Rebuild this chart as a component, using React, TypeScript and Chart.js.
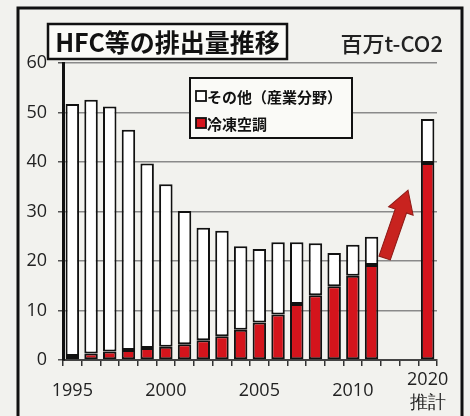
import React, { useEffect, useRef } from 'react';
import { Chart, registerables } from 'chart.js';

Chart.register(...registerables);

// ---- data ----
const categories = [
  '1995', '1996', '1997', '1998', '1999', '2000', '2001', '2002', '2003', '2004',
  '2005', '2006', '2007', '2008', '2009', '2010', '2011', 'gap1', 'gap2', '2020',
];
const shownTickLabels: Record<string, string | string[]> = {
  '1995': '1995',
  '2000': '2000',
  '2005': '2005',
  '2010': '2010',
  '2020': ['2020', '推計'],
};
const refrigeration = [0.8, 1.3, 1.7, 2.0, 2.4, 2.7, 3.2, 4.0, 4.8, 6.1, 7.6, 9.2, 11.3, 13.1, 14.9, 17.0, 19.2, null, null, 39.8];
const otherIndustry = [50.9, 51.3, 49.5, 44.5, 37.3, 32.8, 26.9, 22.7, 21.3, 16.9, 14.8, 14.6, 12.5, 10.5, 6.7, 6.3, 5.7, null, null, 8.9];
const seriesNames = ['冷凍空調', 'その他（産業分野）'];
const titleText = 'HFC等の排出量推移';
const unitText = '百万t-CO2';
const yTicks = { min: 0, max: 60, step: 10 };
// arrow from (category index, value) to (category index, value)
const arrowFrom = { idx: 16.7, value: 20.6 };
const arrowTo = { idx: 17.95, value: 34.3 };

const RED = '#d4141c';
const BG = '#f2f2ee';
const CJK = '"Noto Sans CJK JP", "Noto Sans", sans-serif';
const NUM = '"Open Sans", "Noto Sans", sans-serif';

const decorPlugin = {
  id: 'decor',
  beforeDraw(chart: any) {
    const { ctx, width, height } = chart;
    ctx.save();
    ctx.fillStyle = BG;
    ctx.fillRect(0, 0, width, height);
    ctx.strokeStyle = '#111';
    ctx.lineWidth = 3;
    ctx.strokeRect(18, 8, 444, height + 20);
    ctx.restore();
  },
  afterDatasetsDraw(chart: any) {
    const { ctx, scales } = chart;
    const x = scales.x, y = scales.y;
    const x0 = x.getPixelForValue(arrowFrom.idx), y0 = y.getPixelForValue(arrowFrom.value);
    const x1 = x.getPixelForValue(arrowTo.idx), y1 = y.getPixelForValue(arrowTo.value);
    const ang = Math.atan2(y1 - y0, x1 - x0);
    const len = Math.hypot(x1 - x0, y1 - y0);
    const shaftW = 12, headW = 26, headL = 22;
    ctx.save();
    ctx.translate(x0, y0);
    ctx.rotate(ang);
    ctx.beginPath();
    ctx.moveTo(0, -shaftW / 2);
    ctx.lineTo(len - headL, -shaftW / 2);
    ctx.lineTo(len - headL, -headW / 2);
    ctx.lineTo(len, 0);
    ctx.lineTo(len - headL, headW / 2);
    ctx.lineTo(len - headL, shaftW / 2);
    ctx.lineTo(0, shaftW / 2);
    ctx.closePath();
    ctx.fillStyle = '#c8231f';
    ctx.fill();
    ctx.strokeStyle = '#8e1a16';
    ctx.lineWidth = 1;
    ctx.stroke();
    ctx.restore();
  },
  afterDraw(chart: any) {
    const { ctx } = chart;
    ctx.save();
    // title box
    ctx.fillStyle = '#fafaf7';
    ctx.fillRect(48, 24, 239, 35);
    ctx.strokeStyle = '#111';
    ctx.lineWidth = 2.5;
    ctx.strokeRect(48, 24, 239, 35);
    ctx.fillStyle = '#111';
    ctx.font = `bold 25px ${CJK}`;
    ctx.textAlign = 'center';
    ctx.textBaseline = 'middle';
    ctx.fillText(titleText, 167.5, 42);
    // unit
    ctx.font = `500 22px ${CJK}`;
    ctx.textAlign = 'right';
    ctx.fillStyle = '#222';
    ctx.fillText(unitText, 443, 44);
    // legend
    ctx.fillStyle = '#fafaf7';
    ctx.fillRect(190, 78, 162, 60);
    ctx.strokeStyle = '#111';
    ctx.lineWidth = 2;
    ctx.strokeRect(190, 78, 162, 60);
    const rows = [
      { label: seriesNames[1], fill: '#ffffff', yc: 96 },
      { label: seriesNames[0], fill: RED, yc: 123 },
    ];
    ctx.font = `bold 15px ${CJK}`;
    ctx.textAlign = 'left';
    for (const r of rows) {
      ctx.fillStyle = r.fill;
      ctx.fillRect(196, r.yc - 5, 10, 10);
      ctx.strokeStyle = '#111';
      ctx.lineWidth = 1.8;
      ctx.strokeRect(196, r.yc - 5, 10, 10);
      ctx.fillStyle = '#111';
      ctx.fillText(r.label, 207, r.yc + 1);
    }
    ctx.restore();
  },
};

export default function App() {
  const ref = useRef<HTMLCanvasElement | null>(null);
  useEffect(() => {
    document.body.style.margin = '0';
    const chart = new Chart(ref.current as HTMLCanvasElement, {
      type: 'bar',
      data: {
        labels: categories,
        datasets: [
          {
            label: seriesNames[0],
            data: refrigeration,
            backgroundColor: RED,
            borderColor: '#111',
            borderWidth: 2,
            borderSkipped: false,
          },
          {
            label: seriesNames[1],
            data: otherIndustry,
            backgroundColor: '#ffffff',
            borderColor: '#111',
            borderWidth: 2,
            borderSkipped: false,
          },
        ],
      },
      options: {
        animation: false,
        responsive: false,
        maintainAspectRatio: false,
        layout: { padding: { top: 63, right: 33, left: 0, bottom: 0 } },
        datasets: { bar: { categoryPercentage: 1, barPercentage: 0.72 } },
        plugins: { legend: { display: false }, tooltip: { enabled: false }, title: { display: false } },
        scales: {
          x: {
            stacked: true,
            afterFit: (s: any) => { s.height = 56; },
            grid: { display: true, drawOnChartArea: false, drawTicks: true, tickLength: 6, color: '#333', lineWidth: 1.5, offset: true },
            border: { display: true, color: '#444', width: 2 },
            ticks: {
              autoSkip: false,
              maxRotation: 0,
              padding: 14,
              crossAlign: 'center',
              color: '#222',
              font: { family: NUM, size: 18, lineHeight: 1.25 },
              callback: (_v: any, i: number) => shownTickLabels[categories[i]] ?? '',
            },
          },
          y: {
            stacked: true,
            min: yTicks.min,
            max: yTicks.max,
            afterFit: (s: any) => { s.width = 63; },
            grid: { color: '#8a8a8a', lineWidth: 1.5, tickLength: 5, tickColor: '#555' },
            border: { display: true, color: '#111', width: 3 },
            ticks: {
              stepSize: yTicks.step,
              padding: 11,
              color: '#222',
              font: { family: NUM, size: 18 },
            },
          },
        },
      },
      plugins: [decorPlugin],
    } as any);
    return () => chart.destroy();
  }, []);
  return (
    <div style={{ width: 470, height: 416 }}>
      <canvas ref={ref} width={470} height={416} style={{ display: 'block' }} />
    </div>
  );
}
